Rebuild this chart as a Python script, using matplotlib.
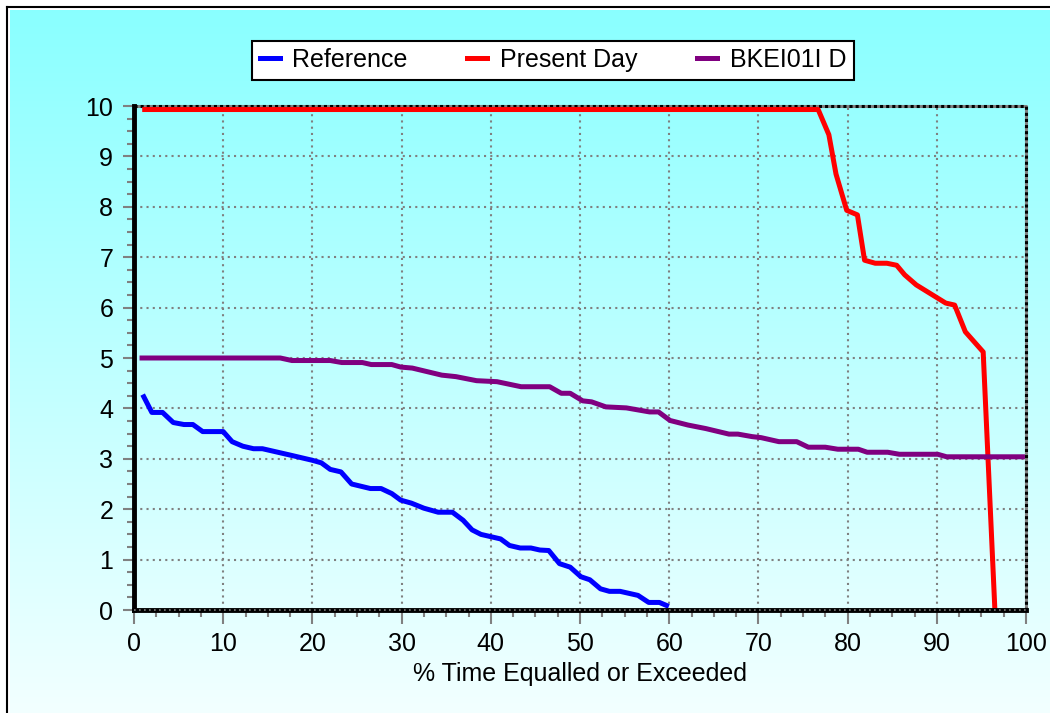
import numpy as np
import matplotlib.pyplot as plt
from matplotlib.lines import Line2D
from matplotlib.ticker import MultipleLocator

plt.rcParams['font.family'] = ['Liberation Sans', 'DejaVu Sans']

# % time equalled or exceeded vs value
ref_x = [1.1, 2.0, 3.2, 4.4, 5.6, 6.6, 7.7, 10.0, 11.0, 12.2, 13.4, 14.4, 17.6, 20.0,
         21.0, 22.0, 23.2, 24.4, 26.5, 27.7, 28.9, 29.9, 31.1, 32.5, 34.1, 35.7, 36.9,
         37.9, 38.9, 41.1, 42.1, 43.3, 44.5, 45.5, 46.5, 47.7, 48.9, 50.1, 51.1, 52.3,
         53.3, 54.5, 56.5, 57.7, 58.9, 59.7]
ref_y = [4.23, 3.92, 3.92, 3.72, 3.68, 3.68, 3.54, 3.54, 3.34, 3.25, 3.2, 3.2, 3.07, 2.97,
         2.92, 2.79, 2.74, 2.5, 2.41, 2.41, 2.31, 2.18, 2.12, 2.02, 1.94, 1.94, 1.78,
         1.59, 1.5, 1.41, 1.28, 1.23, 1.23, 1.19, 1.18, 0.92, 0.85, 0.66, 0.6, 0.42,
         0.37, 0.37, 0.29, 0.15, 0.15, 0.09]

pd_x = [1.2, 76.7, 77.9, 78.7, 79.9, 81.1, 81.9, 83.1, 84.4, 85.5, 86.4, 87.7, 88.8,
        89.9, 91.0, 92.0, 93.2, 95.2, 96.5]
pd_y = [9.93, 9.93, 9.43, 8.65, 7.93, 7.84, 6.94, 6.88, 6.88, 6.84, 6.65, 6.45, 6.33,
        6.21, 6.09, 6.05, 5.52, 5.12, 0.05]

bk_x = [0.9, 16.4, 17.7, 22.0, 23.3, 25.6, 26.6, 28.9, 29.9, 31.2, 34.5, 36.1, 38.4,
        40.7, 43.4, 46.6, 47.9, 48.9, 50.3, 51.3, 52.9, 55.2, 57.8, 58.8, 60.1, 62.1,
        64.1, 66.7, 67.7, 69.3, 70.3, 72.3, 74.3, 75.6, 77.5, 78.9, 81.2, 82.2, 84.5,
        85.8, 90.1, 91.1, 99.6]
bk_y = [5.0, 5.0, 4.95, 4.95, 4.91, 4.91, 4.87, 4.87, 4.82, 4.8, 4.66, 4.63, 4.55,
        4.53, 4.43, 4.43, 4.3, 4.3, 4.15, 4.13, 4.03, 4.01, 3.93, 3.93, 3.76, 3.67,
        3.6, 3.49, 3.49, 3.44, 3.42, 3.34, 3.34, 3.23, 3.23, 3.19, 3.19, 3.13, 3.13,
        3.09, 3.09, 3.04, 3.04]

W, H = 1050, 713
fig = plt.figure(figsize=(W / 100, H / 100), dpi=100)
fig.patch.set_facecolor('white')

# cyan to white gradient background
bg = fig.add_axes([10 / W, 0, 1 - 10 / W, 1 - 10 / H])
grad = np.linspace(0, 1, 256)[:, None, None]
top = np.array([0.54, 1.0, 1.0])
bot = np.array([0.95, 1.0, 1.0])
bg.imshow(top + (bot - top) * grad * np.ones((1, 2, 1)), aspect='auto',
          extent=[0, 1, 0, 1])
bg.set_axis_off()

# thin black frame on left and top
fig.add_artist(Line2D([6.5 / W, 6.5 / W], [0, 1 - 6.5 / H], color='black', lw=1.5))
fig.add_artist(Line2D([6.5 / W, 1], [1 - 6.5 / H, 1 - 6.5 / H], color='black', lw=1.5))

ax = fig.add_axes([134 / W, 1 - 610 / H, (1026 - 134) / W, (610 - 106) / H])
ax.set_facecolor('none')

ax.plot(ref_x, ref_y, color='#0000ff', lw=3.6, label='Reference', zorder=4)
ax.plot(pd_x, pd_y, color='#ff0000', lw=3.6, label='Present Day', zorder=4)
ax.plot(bk_x, bk_y, color='#800080', lw=3.6, label='BKEI01I D', zorder=4)

ax.set_xlim(0, 100)
ax.set_ylim(0, 10)
ax.xaxis.set_major_locator(MultipleLocator(10))
ax.xaxis.set_minor_locator(MultipleLocator(2.5))
ax.yaxis.set_major_locator(MultipleLocator(1))
ax.yaxis.set_minor_locator(MultipleLocator(0.25))
ax.grid(True, which='major', color='#808080', linestyle=(0, (1, 2)), lw=1.5)

ax.tick_params(which='major', direction='out', color='#808080', width=1.5,
               length=8, labelsize=18, labelcolor='black')
ax.tick_params(which='minor', direction='out', color='#808080', width=1.5, length=5)
ax.tick_params(axis='x', which='major', length=10, pad=6)
ax.tick_params(axis='y', which='major', pad=7)

for s in ['top', 'right', 'bottom']:
    ax.spines[s].set_visible(False)
ax.spines['left'].set_linewidth(3.5)
ax.spines['left'].set_color('black')
ax.spines['left'].set_zorder(5)

# dotted frame on top/right, black bottom with grey dots
ax.plot([0, 1, 1], [1, 1, 0], transform=ax.transAxes, color='#808080', lw=2.2,
        clip_on=False, zorder=3)
ax.plot([0, 1, 1], [1, 1, 0], transform=ax.transAxes, color='black', lw=2.2,
        ls=(0, (1, 1)), clip_on=False, zorder=3)
ax.plot([0, 1], [0, 0], transform=ax.transAxes, color='black', lw=3.5,
        clip_on=False, zorder=5)
ax.plot([0, 1], [0, 0], transform=ax.transAxes, color='#808080', lw=1.2,
        ls=(0, (1, 2)), clip_on=False, zorder=6)

ax.set_xlabel('% Time Equalled or Exceeded', fontsize=18, labelpad=4)

leg = fig.legend(loc='center', bbox_to_anchor=(553 / W, 1 - 60 / H), ncol=3,
                 fontsize=18, frameon=True, fancybox=False, edgecolor='black',
                 facecolor='white', framealpha=1, handlelength=0.8,
                 handletextpad=0.5, columnspacing=2.4, borderpad=0.3,
                 borderaxespad=0)
leg.get_frame().set_linewidth(1.5)

fig.savefig('out.png', dpi=100)
